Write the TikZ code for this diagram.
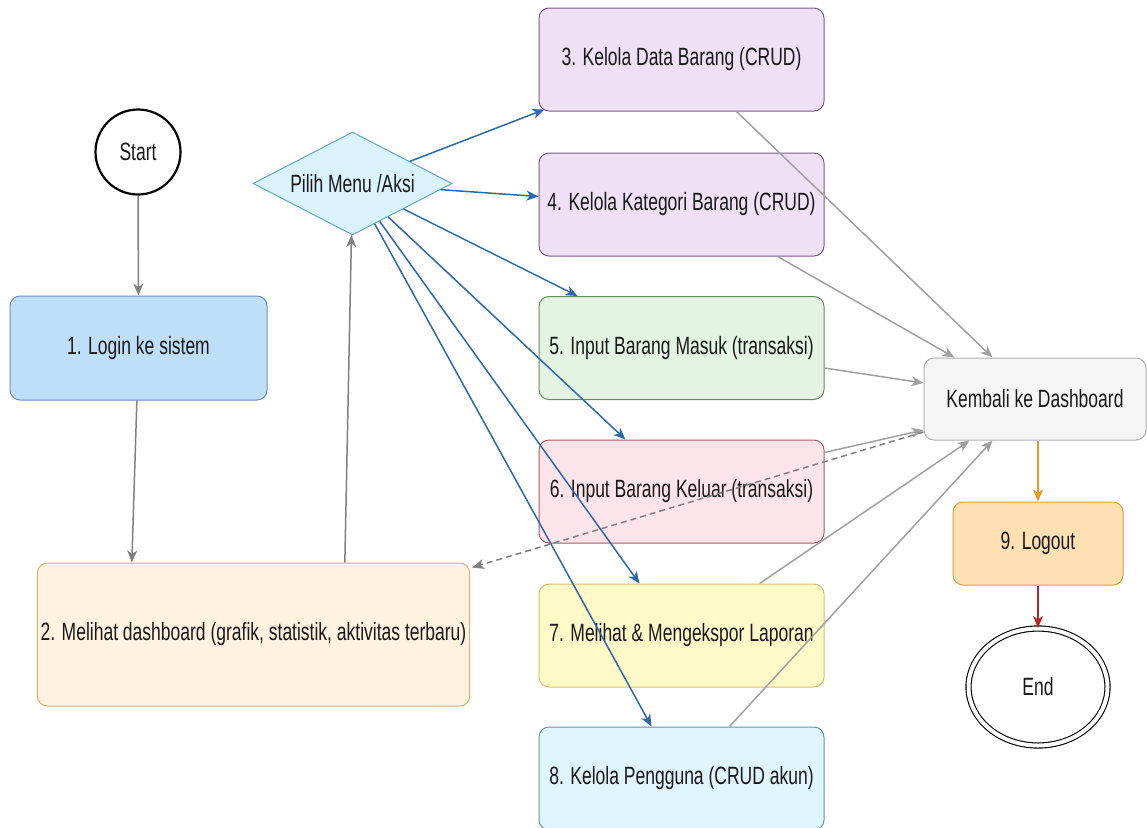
\documentclass[tikz,border=0pt]{standalone}
\usepackage{fontspec}
\setmainfont{Liberation Sans}[FakeStretch=0.7]
\usepackage{xcolor}
\usetikzlibrary{shapes.geometric, arrows.meta}

\definecolor{loginfill}{RGB}{191,222,248}
\definecolor{loginline}{RGB}{108,142,191}
\definecolor{dashfill}{RGB}{255,242,224}
\definecolor{dashline}{RGB}{214,178,110}
\definecolor{menufill}{RGB}{218,242,251}
\definecolor{menuline}{RGB}{90,168,200}
\definecolor{purplefill}{RGB}{239,224,246}
\definecolor{purpleline}{RGB}{120,92,132}
\definecolor{greenfill}{RGB}{228,244,226}
\definecolor{greenline}{RGB}{98,140,90}
\definecolor{pinkfill}{RGB}{253,228,234}
\definecolor{pinkline}{RGB}{170,90,96}
\definecolor{yellowfill}{RGB}{255,249,200}
\definecolor{yellowline}{RGB}{214,190,110}
\definecolor{cyanfill}{RGB}{224,244,253}
\definecolor{cyanline}{RGB}{90,150,180}
\definecolor{backfill}{RGB}{245,245,245}
\definecolor{backline}{RGB}{176,176,176}
\definecolor{logoutfill}{RGB}{255,224,178}
\definecolor{logoutline}{RGB}{215,160,60}
\definecolor{grayline}{RGB}{128,128,128}
\definecolor{blueline}{RGB}{44,104,170}
\definecolor{orangearrow}{RGB}{232,152,30}
\definecolor{redarrow}{RGB}{176,40,40}

\tikzstyle{process} = [rectangle, rounded corners=10pt, minimum width=285pt, minimum height=103pt, line width=1pt, text=black!90]
\tikzstyle{decision} = [diamond, aspect=1.93, inner sep=0pt, minimum width=199pt, minimum height=103pt, line width=1pt, fill=menufill, draw=menuline, text=black!90]
\tikzstyle{startstop} = [circle, draw=black, line width=2.2pt, minimum size=85pt, text=black!90]
\tikzstyle{endstate} = [ellipse, draw=black, double, double distance=4pt, line width=1.1pt, minimum width=139pt, minimum height=117pt, text=black!90]
\tikzstyle{arrow} = [line width=1.5pt, ->, >={Stealth[length=12pt,width=10pt,inset=3.5pt]}]

\begin{document}
\begin{tikzpicture}[x=10pt, y=-10pt, every node/.style={font=\fontsize{25}{30}\selectfont}]
    \useasboundingbox (0,0) rectangle (114.7,82.7);

    \node[startstop] (start) at (13.8,15.2) {Start};
    \node[process, fill=loginfill, draw=loginline, minimum width=257pt, minimum height=104pt] (login) at (13.85,34.8) {1. Login ke sistem};
    \node[process, fill=dashfill, draw=dashline, minimum width=427pt, minimum height=143pt] (dash) at (25.35,63.45) {2. Melihat dashboard (grafik, statistik, aktivitas terbaru)};
    \node[decision] (menu) at (35.25,18.35) {Pilih Menu /Aksi};

    \node[process, fill=purplefill, draw=purpleline] (b3) at (68.15,5.95) {3. Kelola Data Barang (CRUD)};
    \node[process, fill=purplefill, draw=purpleline] (b4) at (68.15,20.45) {4. Kelola Kategori Barang (CRUD)};
    \node[process, fill=greenfill, draw=greenline] (b5) at (68.15,34.8) {5. Input Barang Masuk (transaksi)};
    \node[process, fill=pinkfill, draw=pinkline] (b6) at (68.15,49.15) {6. Input Barang Keluar (transaksi)};
    \node[process, fill=yellowfill, draw=yellowline] (b7) at (68.15,63.55) {7. Melihat \& Mengekspor Laporan};
    \node[process, fill=cyanfill, draw=cyanline] (b8) at (68.15,77.85) {8. Kelola Pengguna (CRUD akun)};

    \node[process, fill=backfill, draw=backline, minimum width=222pt, minimum height=82pt] (back) at (103.5,39.9) {Kembali ke Dashboard};
    \node[process, fill=logoutfill, draw=logoutline, minimum width=170pt, minimum height=83pt] (logout) at (103.8,54.35) {9. Logout};
    \node[endstate] (end) at (103.8,68.7) {End};

    % alur utama
    \draw[arrow, grayline] (start) -- (login);
    \draw[arrow, grayline] (login) -- ([xshift=95pt]dash.north west);
    \draw[arrow, grayline] ([xshift=308pt]dash.north west) -- (menu);

    % pilihan menu
    \draw[arrow, blueline] (menu) -- ([xshift=6pt,yshift=2pt]b3.south west);
    \draw[arrow, blueline] (menu) -- ([yshift=8pt]b4.west);
    \draw[arrow, blueline] (menu) -- ([xshift=39pt]b5.north west);
    \draw[arrow, blueline] (menu) -- ([xshift=87pt]b6.north west);
    \draw[arrow, blueline] (menu) -- ([xshift=101pt]b7.north west);
    \draw[arrow, blueline] (menu) -- ([xshift=113pt]b8.north west);

    % kembali ke dashboard
    \draw[arrow, grayline!75] ([xshift=198pt]b3.south west) -- ([xshift=69pt]back.north west);
    \draw[arrow, grayline!75] ([xshift=239pt]b4.south west) -- ([xshift=31pt]back.north west);
    \draw[arrow, grayline!75] ([yshift=-20pt]b5.east) -- ([yshift=16pt]back.west);
    \draw[arrow, grayline!75] ([yshift=39pt]b6.east) -- ([yshift=-31pt]back.west);
    \draw[arrow, grayline!75] ([xshift=221pt]b7.north west) -- ([xshift=46pt]back.south west);
    \draw[arrow, grayline!75] ([xshift=191pt]b8.north west) -- ([xshift=69pt]back.south west);
    \draw[arrow, grayline, dash pattern=on 6pt off 4pt] ([yshift=-33pt]back.west) -- ([xshift=2pt,yshift=-5pt]dash.north east);

    \draw[arrow, orangearrow] (back.south -| logout) -- (logout);
    \draw[arrow, redarrow] (logout) -- (end);
\end{tikzpicture}
\end{document}
